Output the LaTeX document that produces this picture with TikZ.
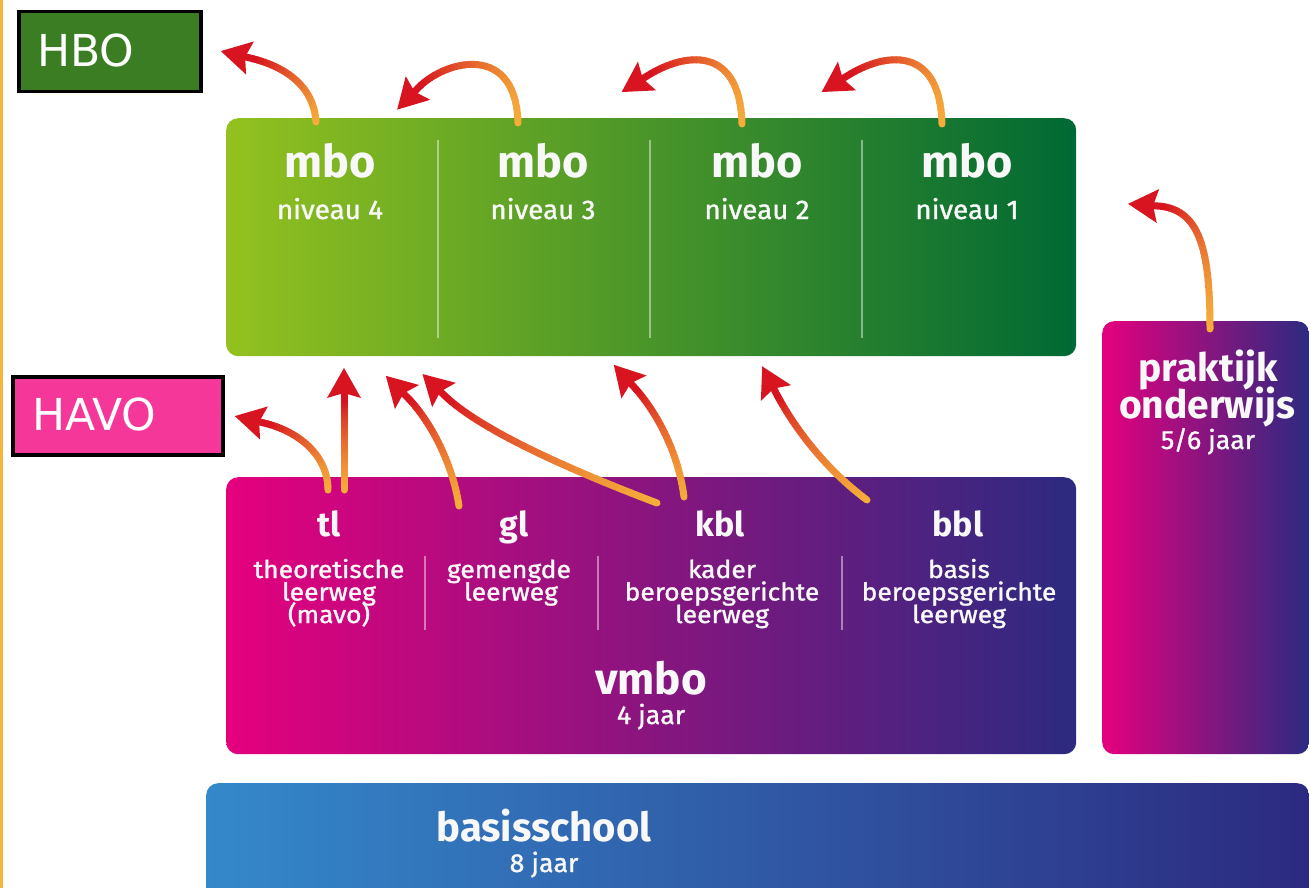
\documentclass[tikz,border=0pt]{standalone}
\usepackage{fontspec}
\setmainfont{Fira Sans}
\newfontfamily\medfont[FakeBold=1.3,FakeStretch=1.03]{Fira Sans}
\newfontfamily\medwide[FakeBold=1.3,FakeStretch=1.08]{Fira Sans}
\newfontfamily\lblfont{DejaVu Sans}
\usetikzlibrary{calc}
\definecolor{arrowO}{HTML}{F5AC3B}
\definecolor{arrowR}{HTML}{D7141F}
\definecolor{mboL}{HTML}{93C11F}
\definecolor{mboR}{HTML}{006934}
\definecolor{vmL}{HTML}{E5007E}
\definecolor{vmR}{HTML}{2C2A80}
\definecolor{bsL}{HTML}{3489CB}
\definecolor{bsR}{HTML}{2C2A80}
\definecolor{hboG}{HTML}{3B7D23}
\definecolor{havoP}{HTML}{F5379A}
\definecolor{edgeO}{HTML}{F8B53C}
\definecolor{txtW}{HTML}{F8F8F8}
\newcommand\gradarrow[4]{%
  \foreach \i in {0,...,29}{%
    \pgfmathsetmacro\ta{\i/30}%
    \pgfmathsetmacro\tb{(\i+1)/30}%
    \pgfmathtruncatemacro\mix{100-100*(\i/29)^1.3}%
    \begin{pgfscope}%
      \pgfsetstrokecolor{arrowO!\mix!arrowR}%
      \pgfsetlinewidth{7pt}%
      \pgfsetroundcap
      \pgfpathmoveto{\pgfpointcurveattime{\ta}{\pgfpointanchor{#1}{center}}{\pgfpointanchor{#2}{center}}{\pgfpointanchor{#3}{center}}{\pgfpointanchor{#4}{center}}}%
      \pgfpathlineto{\pgfpointcurveattime{\tb}{\pgfpointanchor{#1}{center}}{\pgfpointanchor{#2}{center}}{\pgfpointanchor{#3}{center}}{\pgfpointanchor{#4}{center}}}%
      \pgfusepath{stroke}%
    \end{pgfscope}%
  }%
  \draw[arrowR, line width=7pt] (#4) -- ($(#4)!-6pt!(#3)$);
  \fill[arrowR] ($(#4)!-30pt!(#3)$) -- ($(#4)!17pt!90:(#3)$) -- ($(#4)!-5pt!(#3)$) -- ($(#4)!17pt!-90:(#3)$) -- cycle;
}
\newcommand\fs[1]{\fontsize{#1}{#1}\selectfont}
\begin{document}
\begin{tikzpicture}[x=1pt,y=-1pt,
  gbox/.style={anchor=north west, inner sep=0pt, rounded corners=12pt},
  lbl/.style={anchor=north west, inner sep=0pt, draw=black, line width=3.5pt},
  lbltxt/.style={anchor=west, inner sep=0pt, text=white, font=\lblfont\fs{44}},
  hd/.style={anchor=base, inner sep=0pt, text=txtW, font=\bfseries\fs{#1}},
  sub/.style={anchor=base, inner sep=0pt, text=txtW, font=\medfont\fs{#1}},
  subw/.style={anchor=base, inner sep=0pt, text=txtW, font=\medwide\fs{24.5}},
  divider/.style={draw=white, opacity=0.45, line width=1.3pt}]
\useasboundingbox (0,0) rectangle (1309,888);
\clip (0,0) rectangle (1309,888);
\fill[white] (0,0) rectangle (1309,888);
\fill[edgeO] (0,0) rectangle (3,888);

% boxes
\node[gbox, left color=mboL, right color=mboR, minimum width=850pt, minimum height=238pt] (mbo) at (226,118) {};
\node[gbox, left color=vmL, right color=vmR, minimum width=850pt, minimum height=277pt] (vmbo) at (226,477) {};
\node[gbox, left color=vmL, right color=vmR, minimum width=207pt, minimum height=433pt] (prak) at (1102,321) {};
\node[gbox, left color=bsL, right color=bsR, minimum width=1103pt, minimum height=130pt] (basis) at (206,783) {};

% labels
\node[lbl, fill=hboG, minimum width=182pt, minimum height=80pt] (hbo) at (17,10) {};
\node[lbltxt] (hbotxt) at (37,50) {HBO};
\node[lbl, fill=havoP, minimum width=210pt, minimum height=78pt] (havo) at (11,375) {};
\node[lbltxt] (havotxt) at (32,414) {HAVO};

% dividers
\foreach \x in {438,650,862} \draw[divider] (\x,140) -- (\x,338);
\foreach \x in {425,598,842} \draw[divider] (\x,556) -- (\x,630);

% mbo texts
\foreach \x/\n [count=\k] in {330/4,543/3,757/2,967/1}{
  \node[hd=45] (mbo\k) at (\x,178) {mbo};
  \node[sub=27] (niv\k) at (\x,219) {niveau \n};
}

% vmbo texts
\node[hd=34] (tl) at (329,536) {tl};
\node[hd=34] (gl) at (514,536) {gl};
\node[hd=34] (kbl) at (720,536) {kbl};
\node[hd=34] (bbl) at (958,536) {bbl};
\node[subw] (tl1) at (329,578) {theoretische};
\node[subw] (tl2) at (329,600.5) {leerweg};
\node[subw] (tl3) at (329,623) {(mavo)};
\node[subw] (gl1) at (509,578) {gemengde};
\node[subw] (gl2) at (511,600.5) {leerweg};
\node[subw] (kb1) at (722,578) {kader};
\node[subw] (kb2) at (722,600.5) {beroepsgerichte};
\node[subw] (kb3) at (722,623) {leerweg};
\node[subw] (bb1) at (959,578) {basis};
\node[subw] (bb2) at (959,600.5) {beroepsgerichte};
\node[subw] (bb3) at (959,623) {leerweg};
\node[hd=44] (vmbot) at (651,694) {vmbo};
\node[sub=26] (vmboj) at (651,724) {4 jaar};

% praktijk
\node[hd=39] (pr1) at (1208,381) {praktijk};
\node[hd=39] (pr2) at (1207,418) {onderwijs};
\node[sub=26] (pr3) at (1208,449) {5/6 jaar};

% basisschool
\node[hd=40] (bs1) at (544,841) {basisschool};
\node[sub=26] (bs2) at (544,872) {8 jaar};

% arrow geometry
\coordinate (a1s) at (316,122); \coordinate (a1a) at (314,88); \coordinate (a1b) at (288,67); \coordinate (a1e) at (250,58);
\coordinate (a2s) at (518,123); \coordinate (a2a) at (516,42); \coordinate (a2b) at (445,60); \coordinate (a2e) at (418,88);
\coordinate (a3s) at (742,124); \coordinate (a3a) at (740,45); \coordinate (a3b) at (685,52); \coordinate (a3e) at (647,76);
\coordinate (a4s) at (942,124); \coordinate (a4a) at (940,45); \coordinate (a4b) at (885,52); \coordinate (a4e) at (847,76);
\coordinate (a5s) at (1210,329); \coordinate (a5a) at (1210,250); \coordinate (a5b) at (1200,209); \coordinate (a5e) at (1158,206);
\coordinate (a6s) at (328,490); \coordinate (a6a) at (328,455); \coordinate (a6b) at (298,431); \coordinate (a6e) at (264,423);
\coordinate (a7s) at (344,490); \coordinate (a7a) at (344,460); \coordinate (a7b) at (344,420); \coordinate (a7e) at (344,398);
\coordinate (a8s) at (459,506); \coordinate (a8a) at (452,460); \coordinate (a8b) at (428,418); \coordinate (a8e) at (407,397);
\coordinate (a9s) at (657,503); \coordinate (a9a) at (570,470); \coordinate (a9b) at (480,430); \coordinate (a9e) at (444,395);
\coordinate (a10s) at (684,497); \coordinate (a10a) at (678,450); \coordinate (a10b) at (655,410); \coordinate (a10e) at (634,387);
\coordinate (a11s) at (867,500); \coordinate (a11a) at (820,465); \coordinate (a11b) at (790,420); \coordinate (a11e) at (776,393);

\foreach \k in {1,...,11}{\gradarrow{a\k s}{a\k a}{a\k b}{a\k e}}
\end{tikzpicture}
\end{document}
